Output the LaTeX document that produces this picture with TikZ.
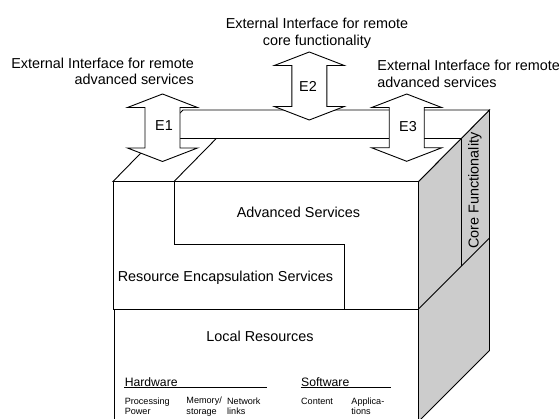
\documentclass[tikz,border=0pt]{standalone}
\usepackage{fontspec}
\setmainfont{Liberation Sans}
\definecolor{facegray}{RGB}{204,204,204}
\newcommand{\ifarrow}[3]{%
  \draw[iface] (#1,#2) -- (#1+35,#2+13.5) -- (#1+17.5,#2+13.5) -- (#1+17.5,#3-13.5)
   -- (#1+35,#3-13.5) -- (#1,#3) -- (#1-35,#3-13.5) -- (#1-17.5,#3-13.5)
   -- (#1-17.5,#2+13.5) -- (#1-35,#2+13.5) -- cycle;}
\begin{document}
\begin{tikzpicture}[x=1pt,y=-1pt, line width=0.9pt, line join=miter,
  big/.style={font=\fontsize{14.4}{16.5}\selectfont, inner sep=0pt},
  small/.style={font=\fontsize{9.1}{10.7}\selectfont, inner sep=0pt, align=left, anchor=west},
  headtxt/.style={font=\fontsize{12.2}{14}\selectfont, inner sep=0pt, anchor=west},
  iface/.style={draw=black, fill=white},
  face/.style={draw=black, fill=facegray},
]
\clip (0,0) rectangle (559,419);
\fill[white] (0,0) rectangle (559,419);

% right (gray) face
\draw[face] (418.5,181.5) -- (489.5,110) -- (489.5,350.5) -- (418.5,421.5) -- cycle;
\draw (461.5,138.3) -- (461.5,266);
\draw (418.5,309) -- (489.5,238);

% top face
\draw[fill=white] (113,181.5) -- (418.5,181.5) -- (489.5,110) -- (183,110) -- cycle;
\draw (155.3,138.3) -- (461.4,138.3);
\draw (174,181.5) -- (216.5,138.3);

% front face
\draw (113,181.5) -- (113,309);
\draw (174,181.5) -- (174,244) -- (344,244) -- (344,309);
\draw (113,309) -- (418.5,309);
\draw (114,309) -- (114,425);

% interface arrows
\ifarrow{309.3}{52}{120}
\ifarrow{162.5}{94}{161.5}
\ifarrow{406.7}{94}{161.3}

\node[big] (e1) at (164,126) {E1};
\node[big] (e2) at (308,86) {E2};
\node[big] (e3) at (408,127) {E3};

% top labels
\node[big, anchor=east, align=right] (lblleft) at (194.3,71.5)
  {External Interface for remote\\advanced services};
\node[big, align=center] (lbltop) at (317,33.5)
  {External Interface for remote\\core functionality};
\node[big, anchor=west, align=left] (lblright) at (377,74)
  {External Interface for remote\\advanced services};

% layer labels
\node[big] (adv) at (298.5,212.7) {Advanced Services};
\node[big] (enc) at (225.5,277.3) {Resource Encapsulation Services};
\node[big] (loc) at (260,336) {Local Resources};
\node[big, rotate=90] (core) at (475,190.5) {Core Functionality};

% local resources detail
\node[headtxt] (hw) at (124.3,382.3) {Hardware};
\node[headtxt] (sw) at (300.7,382.3) {Software};
\draw[line width=0.8pt] (124.3,387) -- (266.7,387);
\draw[line width=0.8pt] (300.7,387) -- (390.7,387);
\node[small] (proc) at (124.3,406.3) {Processing\\Power};
\node[small] (mem) at (186,406.3) {Memory/\\storage};
\node[small] (net) at (226.7,406.3) {Network\\links};
\node[small] (cont) at (300.7,401) {Content};
\node[small] (app) at (351,406.3) {Applica-\\tions};
\end{tikzpicture}
\end{document}
